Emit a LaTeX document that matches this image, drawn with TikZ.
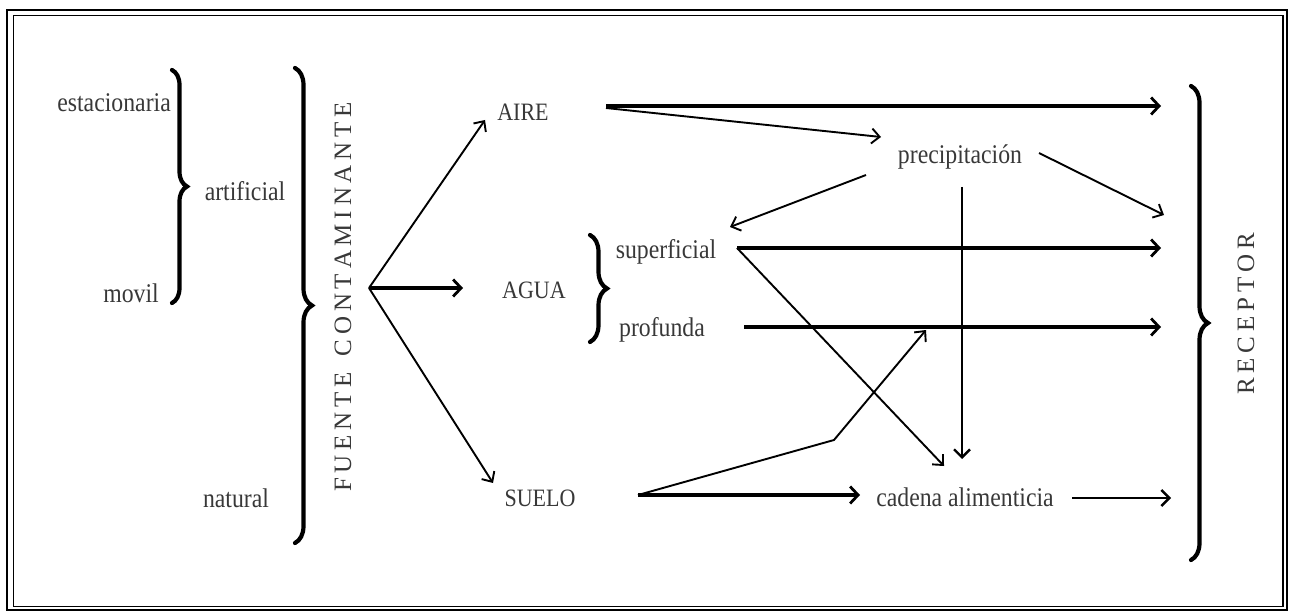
\documentclass[tikz,border=0pt]{standalone}
\usepackage{fontspec}
\setmainfont{Liberation Serif}
\newfontfamily\labfont[FakeStretch=0.88]{Liberation Serif}
\newfontfamily\vertfont{Liberation Serif}
\usetikzlibrary{arrows.meta,decorations.pathreplacing}
\newcommand\lsp{\kern4.8pt}
\begin{document}
\begin{tikzpicture}[x=1pt,y=-1pt,
  lbl/.style={text=black!78, font=\labfont\fontsize{27}{30}\selectfont, inner sep=0pt},
  caps/.style={text=black!78, font=\labfont\fontsize{25}{28}\selectfont, inner sep=0pt},
  vert/.style={text=black!78, font=\vertfont\fontsize{25}{28}\selectfont, inner sep=0pt, rotate=90},
  thinarr/.style={line width=1.9pt, -{Straight Barb[length=8pt,width=15pt,line width=1.9pt]}},
  midarr/.style={line width=2.8pt, -{Straight Barb[length=8pt,width=16pt,line width=2.4pt]}},
  thickarr/.style={line width=4.6pt, -{Straight Barb[length=8pt,width=17pt,line width=2.8pt]}},
  br/.style={line width=4.2pt, line cap=round, decorate, decoration={brace, amplitude=#1}},
  br/.default=17pt
]
\useasboundingbox (0,0) rectangle (1291,612);
% frame
\draw[line width=2.6pt] (7,10) rectangle (1287,610);
\draw[line width=1.2pt] (13.5,15.5) rectangle (1283,606.5);

% text nodes
\node[lbl, anchor=east] (est) at (171,103) {estacionaria};
\node[lbl] (art) at (245,191) {artificial};
\node[lbl] (mov) at (131,293) {movil};
\node[lbl] (nat) at (236,498) {natural};
\node[vert] (fc) at (343,297) {F\lsp U\lsp E\lsp N\lsp T\lsp E\lsp\ \lsp C\lsp O\lsp N\lsp T\lsp A\lsp M\lsp I\lsp N\lsp A\lsp N\lsp T\lsp E};
\node[caps] (aire) at (523,112) {AIRE};
\node[caps] (agua) at (534,290) {AGUA};
\node[caps] (suelo) at (540,498) {SUELO};
\node[lbl] (sup) at (666,252) {superficial};
\node[lbl] (prof) at (662,330) {profunda};
\node[lbl] (prec) at (960,157) {precipitación};
\node[lbl] (cad) at (965,497) {cadena alimenticia};
\node[vert] (rec) at (1246,314) {R\lsp E\lsp C\lsp E\lsp P\lsp T\lsp O\lsp R};

% braces
\draw[br=15pt] (172,70) -- (172,303);
\draw[br] (295,68) -- (295,543);
\draw[br] (590,235) -- (590,342);
\draw[br] (1191,86) -- (1191,560);

% coordinates
\coordinate (fork) at (369,288);
\coordinate (aireIn) at (485,120);
\coordinate (aguaIn) at (463,288);
\coordinate (sueloIn) at (493,483);
\coordinate (aireOut) at (606,106);
\coordinate (aireOut2) at (606,108);
\coordinate (precIn) at (881,137);
\coordinate (precOutL) at (866,175);
\coordinate (supIn) at (730,227);
\coordinate (precOutR) at (1039,153);
\coordinate (recP) at (1164,215);
\coordinate (precOutD) at (962,187);
\coordinate (cadInV) at (962,459);
\coordinate (supOut) at (737,248);
\coordinate (cadInD) at (944,466);
\coordinate (profOut) at (744,327);
\coordinate (sueloOut) at (638,495);
\coordinate (kink) at (834,440);
\coordinate (profIn) at (926,330);
\coordinate (cadInS) at (860,495);
\coordinate (cadOut) at (1072,498);
\coordinate (recA) at (1161,106);
\coordinate (recS) at (1161,248);
\coordinate (recF) at (1161,327);
\coordinate (recC) at (1171,498);

% arrows
\draw[thinarr] (fork) -- (aireIn);
\draw[thickarr] (fork) -- (aguaIn);
\draw[thinarr] (fork) -- (sueloIn);
\draw[thickarr] (aireOut) -- (recA);
\draw[thinarr] (aireOut2) -- (precIn);
\draw[thinarr] (precOutL) -- (supIn);
\draw[thinarr] (precOutR) -- (recP);
\draw[midarr] (precOutD) -- (cadInV);
\draw[thickarr] (supOut) -- (recS);
\draw[thinarr] (supOut) -- (cadInD);
\draw[thickarr] (profOut) -- (recF);
\draw[thinarr] (sueloOut) -- (kink) -- (profIn);
\draw[thickarr] (sueloOut) -- (cadInS);
\draw[midarr] (cadOut) -- (recC);
\end{tikzpicture}
\end{document}
